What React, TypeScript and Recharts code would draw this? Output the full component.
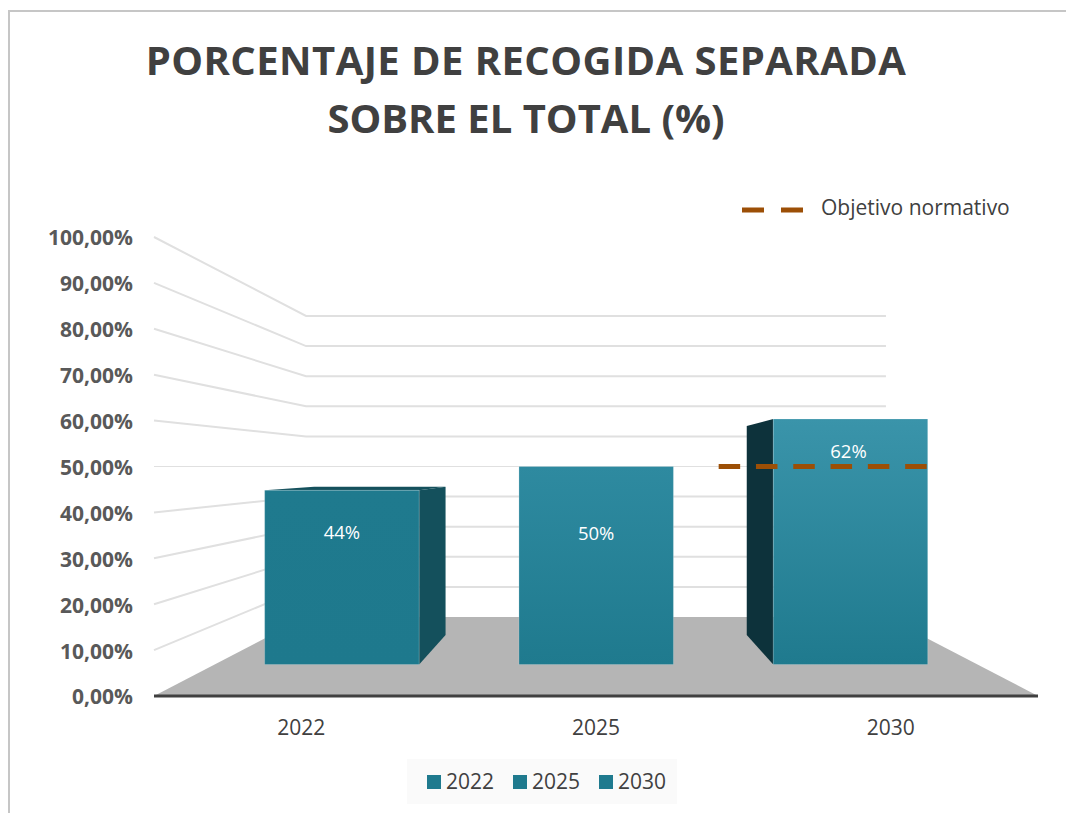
import React from 'react';
import { Bar, CartesianGrid, ComposedChart, Legend, Line, XAxis, YAxis } from 'recharts';

const years = ['2022', '2025', '2030'];
const recogida = [44, 50, 62];
const objetivo = [null, null, 50];
const yTicks = [0, 10, 20, 30, 40, 50, 60, 70, 80, 90, 100];

const tableData = years.map((year, i) => ({
  year,
  [`s${year}`]: recogida[i],
  objetivo: objetivo[i],
}));

const FONT = '"Open Sans", sans-serif';
const W = 1066;
const H = 813;
const X_AXIS_H = 30;
const Y_AXIS_W = 100;
const margin = { top: 237, right: 28, bottom: 87, left: 54 };
const plot = {
  left: margin.left + Y_AXIS_W,
  top: margin.top,
  width: W - margin.left - Y_AXIS_W - margin.right,
  height: H - margin.top - margin.bottom - X_AXIS_H,
};

// perspective: everything shrinks towards the centre of the plot (the 50% level)
const vx = plot.left + plot.width / 2;
const vy = plot.top + plot.height / 2;
const DEPTH_FRONT = 0.863;
const DEPTH_BAR_BACK = 0.734;
const DEPTH_WALL = 0.656;

const project = (x: number, y: number, depth: number) => ({
  x: vx + (x - vx) * depth,
  y: vy + (y - vy) * depth,
});
const pts = (list: { x: number; y: number }[]) => list.map((p) => `${p.x},${p.y}`).join(' ');

const barTop = ['#1f7a8e', '#2e8aa0', '#3a94aa'];
const barBottom = ['#1e798d', '#1f7a8e', '#1f7a8e'];
const barSide = ['#14505c', '#14505c', '#0d323b'];
const labelDrop = [41, 66, 32];
const labelShift = [0, 0, -2];

const WallLine = (props: any) => {
  const { x1, x2, y1 } = props;
  const a = project(x1, y1, DEPTH_WALL);
  const b = project(x2, y1, DEPTH_WALL);
  const isFloor = Math.abs(y1 - (plot.top + plot.height)) < 1;
  const isHorizon = Math.abs(y1 - vy) < 1;
  return (
    <g>
      {isFloor ? (
        <polygon points={pts([{ x: x1, y: y1 }, a, b, { x: x2, y: y1 }])} fill="#b5b5b5" />
      ) : (
        <polyline
          points={pts([{ x: x1, y: y1 }, a, b])}
          fill="none"
          stroke="#e0e0e0"
          strokeWidth={isHorizon ? 1 : 2}
        />
      )}
    </g>
  );
};

const Box3D = (props: any) => {
  const { x, y, width, height, index, value } = props;
  const v = Array.isArray(value) ? value[1] - value[0] : value;
  if (!v || !height) return null;
  const l = x;
  const r = x + width;
  const t = y;
  const b = y + height;
  const fTL = project(l, t, DEPTH_FRONT);
  const fTR = project(r, t, DEPTH_FRONT);
  const fBL = project(l, b, DEPTH_FRONT);
  const fBR = project(r, b, DEPTH_FRONT);
  const bTL = project(l, t, DEPTH_BAR_BACK);
  const bTR = project(r, t, DEPTH_BAR_BACK);
  const bBL = project(l, b, DEPTH_BAR_BACK);
  const bBR = project(r, b, DEPTH_BAR_BACK);
  const side = barSide[index];
  const gradId = `front-${index}`;
  return (
    <g>
      <defs>
        <linearGradient id={gradId} x1="0" y1="0" x2="0" y2="1">
          <stop offset="0%" stopColor={barTop[index]} />
          <stop offset="100%" stopColor={barBottom[index]} />
        </linearGradient>
      </defs>
      {t > vy && <polygon points={pts([fTL, bTL, bTR, fTR])} fill={side} />}
      {fBR.x < vx && <polygon points={pts([fTR, bTR, bBR, fBR])} fill={side} />}
      {fBL.x > vx && <polygon points={pts([fTL, bTL, bBL, fBL])} fill={side} />}
      <polygon
        points={pts([fTL, fTR, fBR, fBL])}
        fill={`url(#${gradId})`}
        stroke="#ffffff"
        strokeOpacity={0.2}
        strokeWidth={1}
      />
      <text
        x={(fTL.x + fTR.x) / 2 + labelShift[index]}
        y={fTL.y + labelDrop[index]}
        textAnchor="middle"
        dominantBaseline="central"
        fontFamily={FONT}
        fontSize={18.5}
        fill="#ffffff"
      >
        {v}%
      </text>
    </g>
  );
};

const ObjetivoDash = (props: any) => {
  const { cx, cy, value } = props;
  if (value == null || cx == null) return null;
  return (
    <line
      x1={cx - 172}
      x2={cx + 37}
      y1={cy}
      y2={cy}
      stroke="#9c4f06"
      strokeWidth={5}
      strokeDasharray="21.5 15.8"
    />
  );
};

const ChartLegend = (props: any) => {
  const items = props.payload || [];
  const bars = items.filter((it: any) => it.dataKey !== 'objetivo');
  const line = items.find((it: any) => it.dataKey === 'objetivo');
  return (
    <div style={{ fontFamily: FONT, fontSize: 21, color: '#404040' }}>
      {line && (
        <div style={{ position: 'absolute', left: 742, top: 192, height: 30, display: 'flex', alignItems: 'center' }}>
          <svg width={61} height={6} style={{ marginRight: 18, position: 'relative', top: 3 }}>
            <line x1={0} x2={61} y1={3} y2={3} stroke={line.color} strokeWidth={5} strokeDasharray="22 17" />
          </svg>
          <span>{line.value}</span>
        </div>
      )}
      <div
        style={{
          position: 'absolute',
          left: 407,
          top: 759,
          width: 270,
          height: 45,
          background: '#fafafa',
          display: 'flex',
          alignItems: 'center',
          paddingLeft: 20,
          boxSizing: 'border-box',
        }}
      >
        {bars.map((it: any) => (
          <div key={it.value} style={{ display: 'flex', alignItems: 'center', width: 86, flexShrink: 0 }}>
            <span style={{ width: 14, height: 14, background: it.color, marginRight: 5, display: 'inline-block' }} />
            <span style={{ position: 'relative', top: -1 }}>{it.value}</span>
          </div>
        ))}
      </div>
    </div>
  );
};

export default function App() {
  return (
    <div style={{ position: 'absolute', left: 0, top: 0, width: W, height: H, overflow: 'hidden', background: '#fff' }}>
      <div
        style={{
          position: 'absolute',
          left: 8,
          top: 10,
          width: W,
          height: H,
          borderLeft: '2px solid #c6c6c6',
          borderTop: '2px solid #c6c6c6',
        }}
      />
      <div
        style={{
          position: 'absolute',
          left: 0,
          top: 31,
          width: 1052,
          textAlign: 'center',
          fontFamily: FONT,
          fontWeight: 700,
          fontSize: 40,
          lineHeight: '58px',
          color: '#404040',
        }}
      >
        <span style={{ letterSpacing: 0.43 }}>PORCENTAJE DE RECOGIDA SEPARADA</span>
        <br />
        SOBRE EL TOTAL (%)
      </div>
      <ComposedChart
        width={W}
        height={H}
        data={tableData}
        margin={margin}
        barCategoryGap="19.7%"
        style={{ position: 'absolute', left: 0, top: 0 }}
      >
        <CartesianGrid vertical={false} horizontal={(p: any) => <WallLine {...p} />} />
        <XAxis
          dataKey="year"
          height={X_AXIS_H}
          axisLine={{ stroke: '#404040', strokeWidth: 3 }}
          tickLine={false}
          tickSize={0}
          tickMargin={24}
          tick={{ fontFamily: FONT, fontSize: 21, fill: '#404040' }}
        />
        <YAxis
          width={Y_AXIS_W}
          domain={[0, 100]}
          ticks={yTicks}
          interval={0}
          axisLine={false}
          tickLine={false}
          tickSize={0}
          tickMargin={21}
          tickFormatter={(v: number) => `${v.toFixed(2).replace('.', ',')}%`}
          tick={{ fontFamily: FONT, fontSize: 21, fontWeight: 700, fill: '#595959', dy: 1 }}
        />
        {years.map((year) => (
          <Bar
            key={year}
            dataKey={`s${year}`}
            name={year}
            stackId="recogida"
            fill="#1f7a8e"
            shape={<Box3D />}
            isAnimationActive={false}
          />
        ))}
        <Line
          dataKey="objetivo"
          name="Objetivo normativo"
          stroke="#9c4f06"
          dot={(p: any) => <ObjetivoDash key={p.index} {...p} />}
          activeDot={false}
          isAnimationActive={false}
        />
        <Legend
          content={<ChartLegend />}
          height={0}
          wrapperStyle={{ position: 'absolute', left: 0, top: 0, width: W, height: 0, bottom: 'auto' }}
        />
      </ComposedChart>
    </div>
  );
}
